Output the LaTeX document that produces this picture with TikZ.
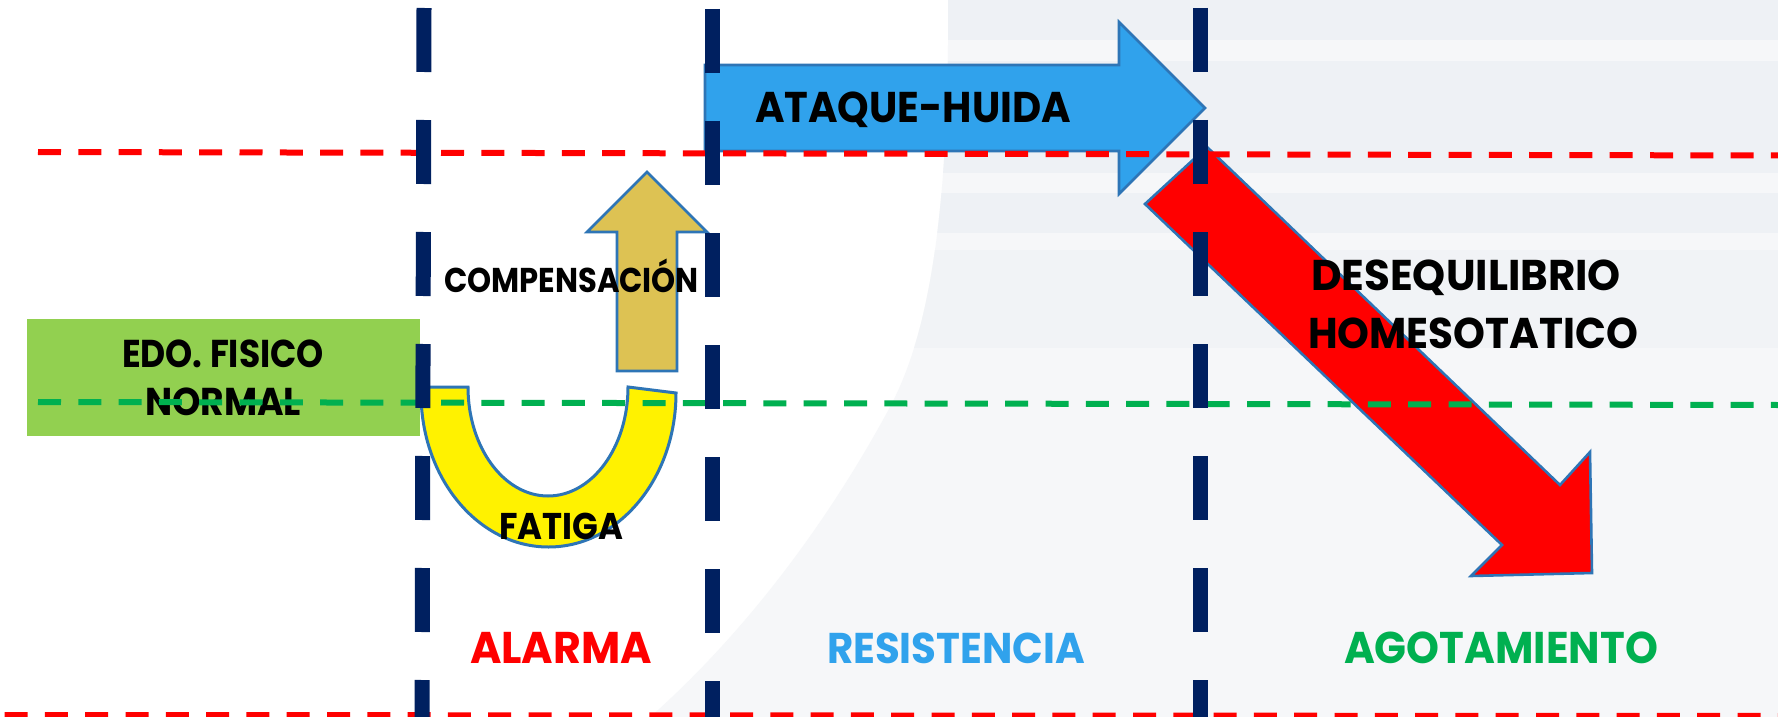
\documentclass[tikz,border=0pt]{standalone}
\usepackage{fontspec}
\usepackage{graphicx}
\newfontfamily\pop{Poppins}
\definecolor{navy}{HTML}{002060}
\definecolor{dred}{HTML}{FF0000}
\definecolor{dgreen}{HTML}{00B050}
\definecolor{skyblue}{HTML}{30A2EC}
\definecolor{edge}{HTML}{2E75B6}
\definecolor{tan}{HTML}{DDC253}
\definecolor{lgreen}{HTML}{92D050}
\definecolor{bgA}{HTML}{EEF1F5}
\definecolor{bgB}{HTML}{F6F7F9}
\definecolor{bgC}{HTML}{F1F3F6}
\newcommand\fitw[3]{\resizebox{#1}{\height}{\fontsize{#2}{#2}\selectfont\bfseries #3}}
\tikzset{
  lab/.style={anchor=base west, inner sep=0pt, outer sep=0pt, font=\pop},
  navyline/.style={draw=navy, line width=7.5pt, dash pattern=on 32pt off 24pt},
  hdash/.style={line width=3pt, dash pattern=on 11.5pt off 8.65pt},
  shapeedge/.style={draw=edge, line width=1.3pt, line join=miter}
}
\begin{document}
\begin{tikzpicture}[x=0.5pt,y=-0.5pt]
\useasboundingbox (0,0) rectangle (1778,717);
\fill[white] (0,0) rectangle (1778,717);
% background panel
\begin{scope}
\clip (948,-2) .. controls (950,250) and (920,350) .. (890,407)
  .. controls (840,500) and (760,620) .. (648,719) -- (1780,719) -- (1780,-2) -- cycle;
\fill[bgB] (0,0) rectangle (1778,717);
\fill[bgA] (0,0) rectangle (1778,40);
\fill[bgA] (0,61) rectangle (1778,173);
\fill[bgA] (0,193) rectangle (1778,233);
\fill[bgC] (0,250) rectangle (1778,348);
\end{scope}
% green box
\fill[lgreen] (27,319) rectangle (420,436);
% yellow U
\path[fill=yellow, shapeedge, line width=1.5pt] (421,387) -- (468,387)
  arc[start angle=180, end angle=0, x radius=80, y radius=109] -- (676,393)
  arc[start angle=0, end angle=180, x radius=127.5, y radius=154] -- cycle;
% tan arrow
\path[fill=tan, shapeedge] (647,172) -- (707,232) -- (677,232) -- (677,371) -- (617,371) -- (617,232) -- (587,232) -- cycle;
% blue arrow
\path[fill=skyblue, shapeedge] (705,65) -- (1119,65) -- (1119,22) -- (1205,108) -- (1119,194) -- (1119,151) -- (705,151) -- cycle;
% red arrow
\path[fill=dred, shapeedge] (1207,147) -- (1560,485) -- (1590,452) -- (1592,573) -- (1471,576) -- (1502,545) -- (1145,204) -- cycle;
% texts
\node[lab] (ataque) at (755,123) {\fitw{158pt}{21.5pt}{ATAQUE-HUIDA}};
\node[lab] (comp) at (444,292) {\fitw{127.5pt}{17.2pt}{COMPENSACIÓN}};
\node[lab] (edo) at (122,367) {\fitw{101pt}{19.4pt}{EDO. FISICO}};
\node[lab] (normal) at (145,415) {\fitw{78pt}{19.4pt}{NORMAL}};
\node[lab] (fatiga) at (499,539) {\fitw{62pt}{18.6pt}{FATIGA}};
\node[lab] (deseq) at (1311,290) {\fitw{155pt}{21.5pt}{DESEQUILIBRIO}};
\node[lab] (homeo) at (1308,348) {\fitw{165pt}{21.5pt}{HOMESOTATICO}};
\node[lab, text=dred] (alarma) at (470,663) {\fitw{91pt}{22.2pt}{ALARMA}};
\node[lab, text=skyblue] (resist) at (827,663) {\fitw{129pt}{21.5pt}{RESISTENCIA}};
\node[lab, text=dgreen] (agot) at (1344,663) {\fitw{157pt}{22.2pt}{AGOTAMIENTO}};
% horizontal dashed lines
\draw[hdash, dred] (38,152) -- (1778,155.5);
\draw[hdash, dgreen] (38,402) -- (1778,405);
\draw[hdash, dred] (4.6,715) -- (1778,716);
% vertical navy dashed lines
\draw[navyline] (424,8) -- (422,720);
\draw[navyline] (712,9) -- (712,720);
\draw[navyline] (1200,8) -- (1200,720);
\end{tikzpicture}
\end{document}
